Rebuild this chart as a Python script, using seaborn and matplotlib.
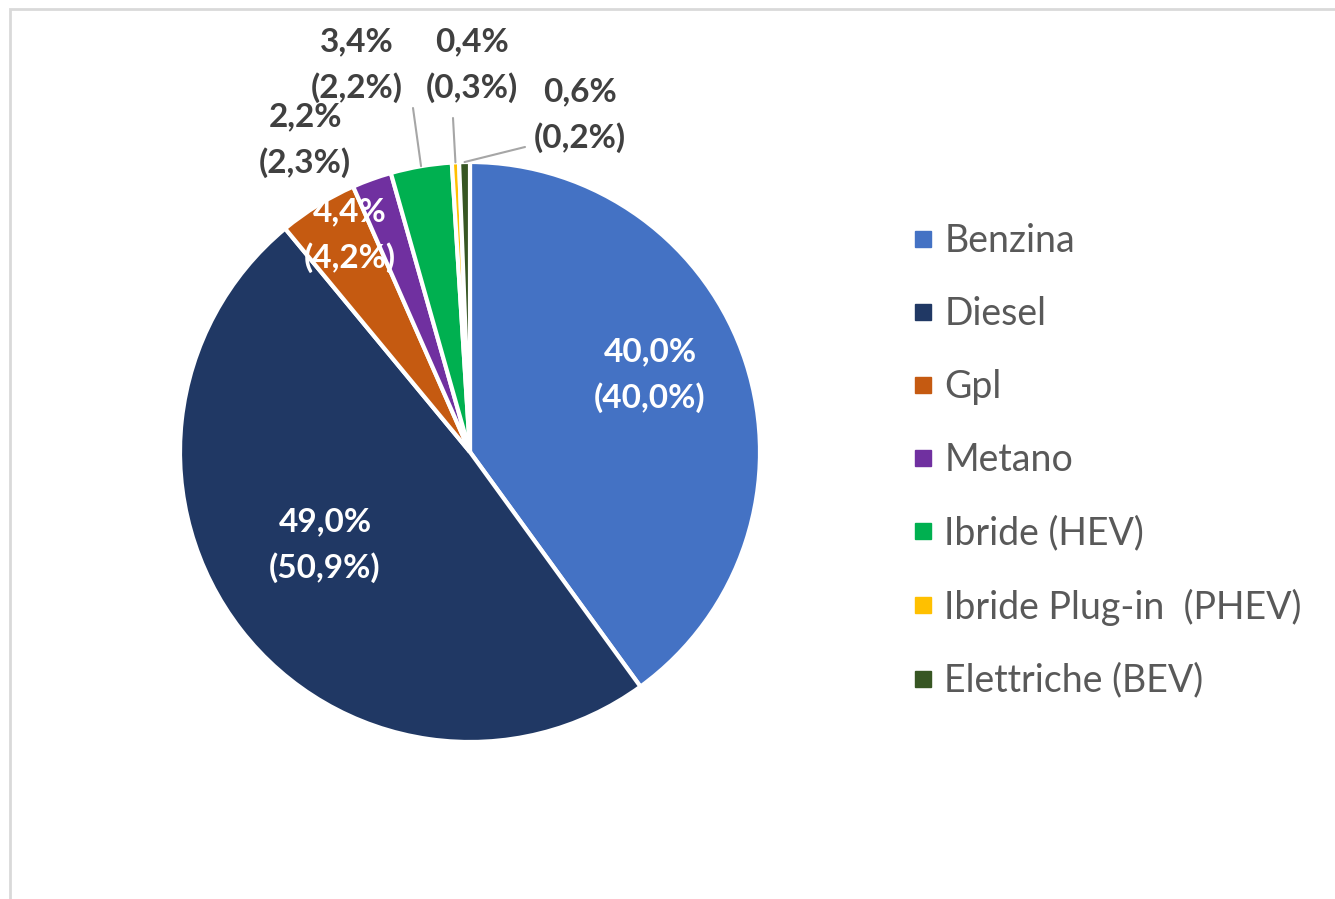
import matplotlib
matplotlib.use("Agg")
import matplotlib.pyplot as plt
import seaborn as sns
import numpy as np
from matplotlib.patches import Rectangle
from matplotlib.lines import Line2D

categories = ["Benzina", "Diesel", "Gpl", "Metano", "Ibride (HEV)",
              "Ibride Plug-in  (PHEV)", "Elettriche (BEV)"]
values_main = [40.0, 49.0, 4.4, 2.2, 3.4, 0.4, 0.6]
values_prev = [40.0, 50.9, 4.2, 2.3, 2.2, 0.3, 0.2]
colors_hex = ["#4472C4", "#203864", "#C55A11", "#7030A0", "#00B050",
              "#FFC000", "#375623"]

sns.set_theme(style="white")
plt.rcParams['font.family'] = ['Lato', 'DejaVu Sans']

W, H = 1335, 899
fig = plt.figure(figsize=(W / 100, H / 100), dpi=100)
ax = fig.add_axes([0, 0, 1, 1])
ax.set_xlim(0, W)
ax.set_ylim(0, H)
ax.set_aspect('equal')
ax.axis('off')

palette = sns.color_palette(colors_hex)
cx, cy, R = 470, H - 452, 290
wedges, _ = ax.pie(values_main, colors=palette, startangle=90, counterclock=False,
                   center=(cx, cy), radius=R,
                   wedgeprops=dict(edgecolor='white', linewidth=3))
ax.set_xlim(0, W)
ax.set_ylim(0, H)

# frame (top + left edges visible)
fig.patches.append(Rectangle((9.5 / W, -0.1), 2.0, (H - 8.5) / H + 0.1,
                             transform=fig.transFigure, fill=False,
                             edgecolor='#D9D9D9', linewidth=2))

def fmt(v):
    return f"{v:.1f}".replace('.', ',') + "%"

labels = [f"{fmt(a)}\n({fmt(b)})" for a, b in zip(values_main, values_prev)]

# label positions (pixel coords, y from top) and leader styles
lab_pos = [(650, 375), (325, 545), (350, 235), (305, 140), (357, 65), (472, 65), (580, 115)]
inside = [True, True, True, False, False, False, False]
leaders = {4: [(413, 108)], 5: [(453, 118)], 6: [(525, 147)]}

fs = 24
for i, (w, lab) in enumerate(zip(wedges, labels)):
    x, y = lab_pos[i]
    col = 'white' if inside[i] else '#404040'
    ax.text(x, H - y, lab, ha='center', va='center', fontsize=fs,
            fontweight='bold', color=col, linespacing=1.62, zorder=5)
    if i in leaders:
        ang = np.deg2rad((w.theta1 + w.theta2) / 2)
        sx = cx + R * np.cos(ang)
        sy = cy + R * np.sin(ang)
        pts = [(sx, sy)] + [(px, H - py) for px, py in leaders[i]]
        xs, ys = zip(*pts)
        ax.add_line(Line2D(xs, ys, color='#A6A6A6', linewidth=1.5, zorder=4))

# legend
handles = [Line2D([], [], marker='s', linestyle='none', markersize=12,
                  markerfacecolor=c, markeredgecolor=c) for c in palette]
leg = fig.legend(handles, categories, loc='upper left',
                 bbox_to_anchor=(874 / W, 1 - 189 / H), frameon=False,
                 fontsize=27, labelcolor='#595959', handletextpad=0.17,
                 labelspacing=0.99, handlelength=0.8)

fig.savefig("out.png", dpi=100, facecolor='white')
